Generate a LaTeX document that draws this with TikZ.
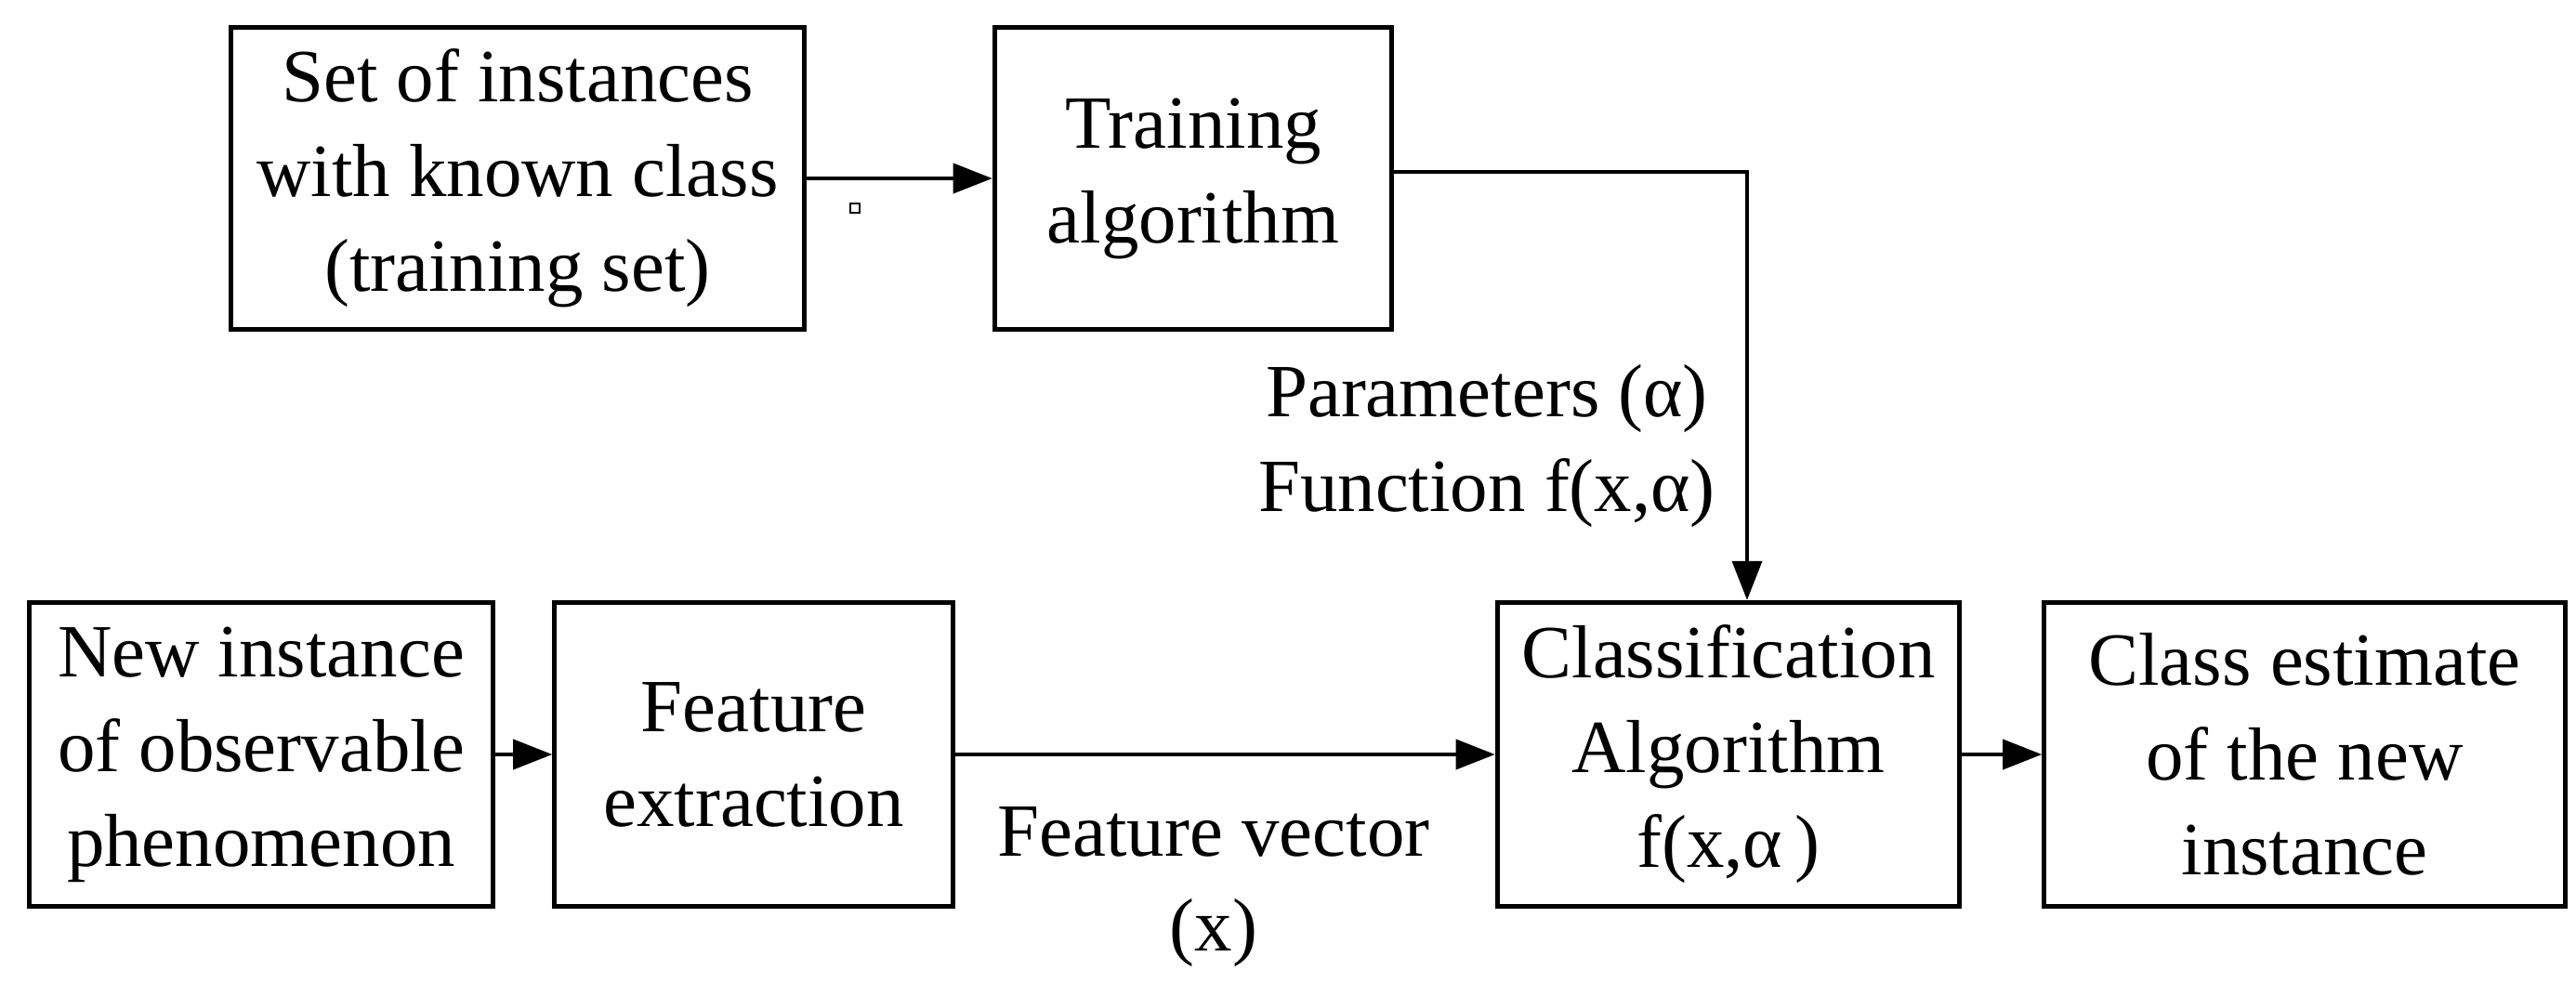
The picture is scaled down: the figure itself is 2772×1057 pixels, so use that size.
\documentclass[tikz,border=0pt]{standalone}
\usepackage{fontspec}
\setmainfont{Liberation Serif}
\usetikzlibrary{arrows.meta}
\begin{document}
\begin{tikzpicture}[x=0.01cm,y=-0.01cm,
  box/.style={draw,line width=1.4pt,align=center,font=\fontsize{23}{29}\selectfont,inner sep=0pt},
  lbl/.style={align=center,font=\fontsize{23}{29}\selectfont},
  arr/.style={line width=1.4pt,-{Triangle[length=12pt,width=9pt]}}]
\useasboundingbox (0,0) rectangle (2772,1057);
\node[box,minimum width=6.16cm,minimum height=3.24cm] (a) at (557,192) {Set of instances\\with known class\\(training set)};
\node[box,minimum width=4.27cm,minimum height=3.24cm] (b) at (1284,192) {Training\\algorithm};
\node[box,minimum width=4.98cm,minimum height=3.27cm] (c) at (281,812) {New instance\\of observable\\phenomenon};
\node[box,minimum width=4.28cm,minimum height=3.27cm] (d) at (811,812) {Feature\\extraction};
\node[box,minimum width=4.97cm,minimum height=3.27cm] (e) at (1860,812) {Classification\\Algorithm\\f(x,α\,)};
\node[box,minimum width=5.60cm,minimum height=3.27cm] (f) at (2480,812) {Class estimate\\of the new\\instance};
\node[draw,line width=0.8pt,minimum size=0.1cm,inner sep=0pt] (sq) at (920,224) {};
\node[lbl] (p) at (1600,480) {Parameters (α)\\Function f(x,α)};
\node[lbl] (fv) at (1306,955) {Feature vector\\(x)};
\coordinate (k) at (1880,185);
\draw[arr] (a.east) -- (b.west);
\draw[arr] (b.east |- k) -- (k) -- (e.north -| k);
\draw[arr] (c) -- (d);
\draw[arr] (d) -- (e);
\draw[arr] (e) -- (f);
\end{tikzpicture}
\end{document}
